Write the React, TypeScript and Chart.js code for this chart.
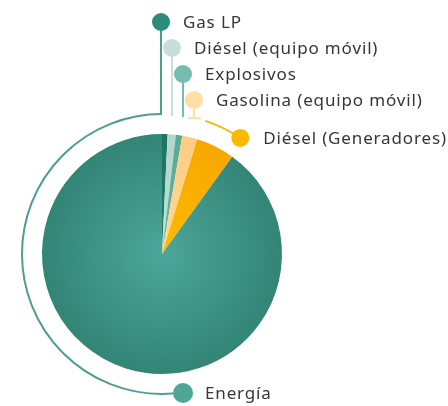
import React, { useEffect, useRef } from "react";
import { Chart, registerables } from "chart.js";

Chart.register(...registerables);

const labels = [
  "Gas LP",
  "Diésel (equipo móvil)",
  "Explosivos",
  "Gasolina (equipo móvil)",
  "Diésel (Generadores)",
  "Energía",
];
const values = [0.75, 1.1, 0.85, 2.05, 5.2, 90.05];
const innerColors = ["#237f6e", "#c2ded6", "#66b3a3", "#ffd895", "#fdba00", "#4ca699"];
const outerColors = ["#1d7464", "#b3d5cb", "#5aa898", "#fccd82", "#f8a700", "#338576"];
const dotColors = ["#2a8c7b", "#c7dfd8", "#74bcad", "#ffe0a4", "#fbb900", "#4fa697"];
const lineColors = ["#4a9f91", "#c7dfd8", "#74bcad", "#ffe0a4", "#fbb900", "#4a9f91"];

const FONT = "17px 'Noto Sans'";
const TEXT_COLOR = "#363636";

const leaderPlugin = {
  id: "leaders",
  afterDraw(chart: any) {
    const meta = chart.getDatasetMeta(0);
    const arc0 = meta.data[0];
    if (!arc0) return;
    const cx = arc0.x;
    const cy = arc0.y;
    const R = arc0.outerRadius;
    const ringR = R + 20;
    const ctx = chart.ctx;
    ctx.save();
    ctx.lineCap = "butt";

    // big ring around left side (Energía + Gas LP)
    ctx.strokeStyle = lineColors[5];
    ctx.lineWidth = 2;
    ctx.beginPath();
    ctx.moveTo(cx + 21, cy + ringR - 1);
    ctx.lineTo(cx, cy + ringR);
    ctx.arc(cx, cy, ringR, Math.PI / 2, (3 * Math.PI) / 2, false);
    ctx.stroke();

    const dot = (x: number, y: number, r: number, c: string) => {
      ctx.fillStyle = c;
      ctx.beginPath();
      ctx.arc(x, y, r, 0, Math.PI * 2);
      ctx.fill();
    };
    const vline = (x: number, y1: number, y2: number, c: string) => {
      ctx.strokeStyle = c;
      ctx.lineWidth = 2;
      ctx.beginPath();
      ctx.moveTo(x, y1);
      ctx.lineTo(x, y2);
      ctx.stroke();
    };
    const text = (s: string, x: number, y: number) => {
      ctx.fillStyle = TEXT_COLOR;
      ctx.font = FONT;
      (ctx as any).letterSpacing = "0.85px";
      ctx.textAlign = "left";
      ctx.textBaseline = "middle";
      ctx.fillText(s, x, y + 1);
    };

    // stacked top labels for the small slices
    const tops = [0, 1, 2, 3];
    tops.forEach((i) => {
      const x = cx - 1 + i * 11;
      const y = cy - 232 + i * 26;
      const yEnd = i === 0 ? cy - ringR : cy - ringR + 1 + i;
      vline(x, y, yEnd, lineColors[i]);
      if (i === 3) {
        ctx.beginPath();
        ctx.moveTo(x - 6, yEnd);
        ctx.lineTo(x + 7, yEnd);
        ctx.stroke();
      }
      dot(x, y, 9, dotColors[i]);
      text(labels[i], x + 22, y);
    });

    // Diésel (Generadores): along the ring
    const a1 = -Math.PI / 2 + (18 * Math.PI) / 180;
    const a2 = -Math.PI / 2 + (34 * Math.PI) / 180;
    ctx.strokeStyle = lineColors[4];
    ctx.lineWidth = 2;
    ctx.beginPath();
    ctx.arc(cx, cy, ringR, a1, a2, false);
    ctx.stroke();
    const ox = cx + ringR * Math.cos(a2);
    const oy = cy + ringR * Math.sin(a2);
    dot(ox, oy, 9, dotColors[4]);
    text(labels[4], ox + 23, oy);

    // Energía
    const ex = cx + 21;
    const ey = cy + ringR - 1;
    dot(ex, ey, 10, dotColors[5]);
    text(labels[5], ex + 22, ey);

    ctx.restore();
  },
};

export default function App() {
  const ref = useRef<HTMLCanvasElement | null>(null);
  useEffect(() => {
    if (!ref.current) return;
    const chart = new Chart(ref.current, {
      type: "pie",
      data: {
        labels,
        datasets: [
          {
            data: values,
            borderWidth: 0,
            backgroundColor: (c: any) => {
              const ch = c.chart;
              const area = ch.chartArea;
              const i = c.dataIndex ?? 0;
              if (!area) return innerColors[i];
              const x = (area.left + area.right) / 2;
              const y = (area.top + area.bottom) / 2;
              const r = Math.min(area.right - area.left, area.bottom - area.top) / 2;
              const g = ch.ctx.createRadialGradient(x, y, 0, x, y, r);
              g.addColorStop(0, innerColors[i]);
              g.addColorStop(1, outerColors[i]);
              return g;
            },
          },
        ],
      },
      options: {
        responsive: false,
        animation: false,
        layout: { padding: { left: 42, right: 166, top: 134, bottom: 32 } },
        plugins: { legend: { display: false }, tooltip: { enabled: false } },
      },
      plugins: [leaderPlugin],
    });
    return () => chart.destroy();
  }, []);
  return (
    <div style={{ position: "fixed", left: 0, top: 0, width: 448, height: 406, background: "#fff" }}>
      <canvas ref={ref} width={448} height={406} style={{ width: 448, height: 406, display: "block" }} />
    </div>
  );
}
